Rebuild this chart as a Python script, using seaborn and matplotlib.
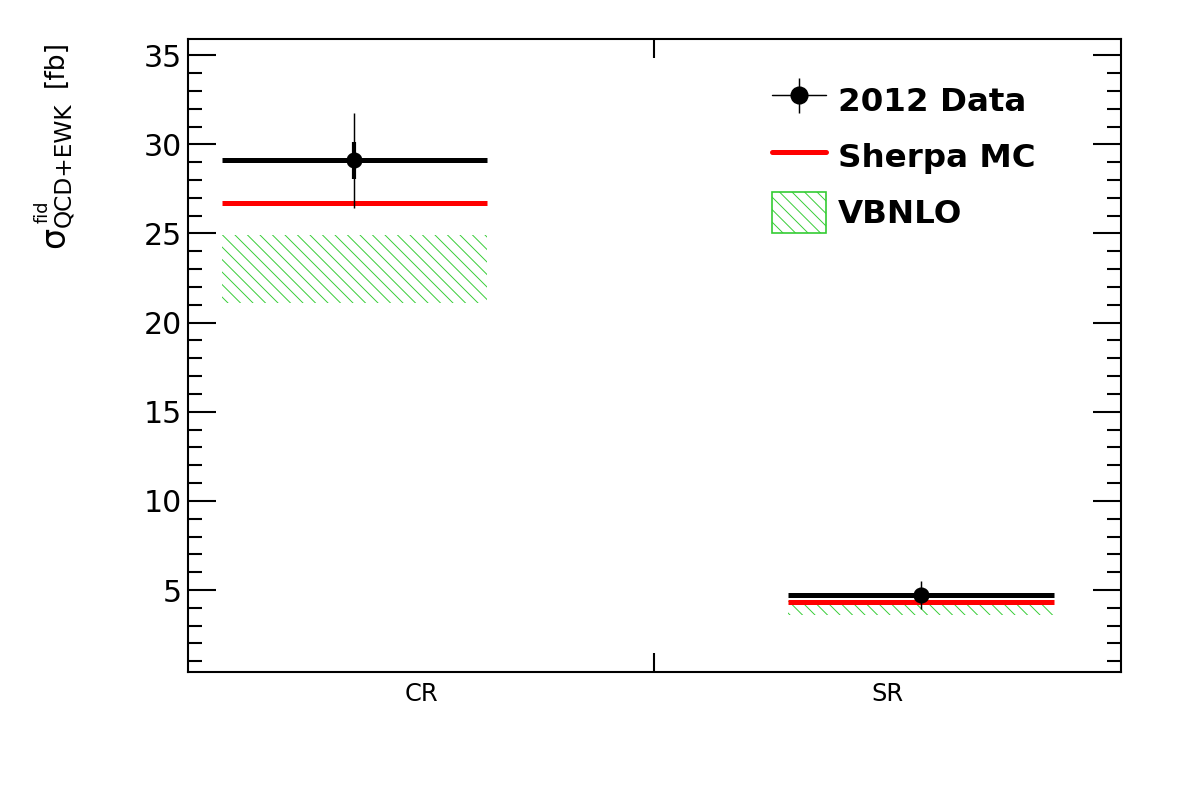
"""
Fiducial cross section in control and signal regions: 2012 data vs Sherpa MC and VBNLO
"""

import matplotlib
matplotlib.use('Agg')
import matplotlib.pyplot as plt
from matplotlib.lines import Line2D
from matplotlib.patches import Patch
from matplotlib.legend_handler import HandlerTuple
import pandas as pd
import seaborn as sns

# Values
regions = ['CR', 'SR']
data_xsec = [29.1, 4.7]
data_stat = [1.05, 0.3]
data_total = [2.65, 0.78]
sherpa_xsec = [26.7, 4.3]
vbnlo_low = [21.1, 3.6]
vbnlo_high = [24.9, 4.4]

sns.set_style('ticks')
plt.rcParams['font.family'] = ['DejaVu Sans']
plt.rcParams['hatch.linewidth'] = 0.45
for key in ['text.color', 'axes.labelcolor', 'xtick.color', 'ytick.color']:
    plt.rcParams[key] = 'black'

df = pd.DataFrame({
    'region': regions,
    'data': data_xsec,
    'stat': data_stat,
    'total': data_total,
    'sherpa': sherpa_xsec,
    'vb_lo': vbnlo_low,
    'vb_hi': vbnlo_high,
})
# where each region's entries sit inside its bin (layout only)
df['xc'] = [0.357, 1.572]
half_w = 0.285

W, H = 1182, 800
fig = plt.figure(figsize=(W / 150, H / 150), dpi=150)
ax = fig.add_axes([0.159, 0.16, 0.7894, 0.791])

green = '#33cc33'
hatch = '\\' * 4
for _, r in df.iterrows():
    ax.fill_between([r.xc - half_w, r.xc + half_w], r.vb_lo, r.vb_hi,
                    facecolor='none', edgecolor=green, hatch=hatch, linewidth=0)
    ax.hlines(r.sherpa, r.xc - half_w, r.xc + half_w, color='#ff0000', lw=2.4, zorder=3)
    ax.hlines(r.data, r.xc - half_w, r.xc + half_w, color='black', lw=2.4, zorder=4)

ax.errorbar(df['xc'], df['data'], yerr=df['total'], fmt='none', ecolor='black',
            elinewidth=0.7, capsize=0, zorder=5)
ax.errorbar(df['xc'], df['data'], yerr=df['stat'], fmt='none', ecolor='black',
            elinewidth=2.0, capsize=0, zorder=5)
sns.scatterplot(data=df, x='xc', y='data', ax=ax, color='black', s=60,
                edgecolor='black', linewidth=0, zorder=6, legend=False)

ax.set_xlim(0, 2)
ax.set_ylim(0.4, 35.9)

# y axis, ROOT style ticks on both sides
ax.set_yticks([5, 10, 15, 20, 25, 30, 35])
ax.set_yticks(range(1, 36), minor=True)
ax.tick_params(axis='y', which='major', direction='in', length=13.4, width=1.0,
               labelsize=14.4, right=True, pad=3)
ax.tick_params(axis='y', which='minor', direction='in', length=6.7, width=1.0, right=True)

# x axis: bin edge tick, labels at bin centres
ax.set_xticks([1])
ax.set_xticklabels([''])
ax.set_xticks([0.5, 1.5], minor=True)
ax.set_xticklabels(regions, minor=True)
ax.tick_params(axis='x', which='major', direction='in', length=9, width=1.0, top=True)
ax.tick_params(axis='x', which='minor', length=0, labelsize=11.6, pad=5)

for s in ax.spines.values():
    s.set_linewidth(1.0)
    s.set_color('black')

ax.set_xlabel('')
ax.set_ylabel('')

# y title built from pieces (ROOT-like sub/superscript sizes), rotated
def ytitle(x_px, y_px, txt, size):
    fig.text(x_px / W, 1 - y_px / H, txt, fontsize=size, rotation=90,
             rotation_mode='anchor', ha='left', va='baseline')

ytitle(64, 248, 'σ', 16)
ytitle(48, 223, 'fid', 8.6)
ytitle(70, 227, 'QCD+EWK', 11.2)
ytitle(63, 87, '[fb]', 12.8)

# legend
data_h = (Line2D([], [], color='black', lw=0.7, marker='o', markersize=7.7),
          Line2D([], [], color='black', lw=0, marker='|', markersize=16.8, markeredgewidth=0.7))
sherpa_h = Line2D([], [], color='#ff0000', lw=2.4)
vbnlo_h = Patch(facecolor='white', edgecolor=green, hatch=hatch, linewidth=0.8)
leg = ax.legend([data_h, sherpa_h, vbnlo_h], ['2012 Data', 'Sherpa MC', 'VBNLO'],
                handler_map={tuple: HandlerTuple(ndivide=1)},
                loc='upper left', bbox_to_anchor=(0.626, 0.936), frameon=False,
                prop={'size': 15.6, 'weight': 'bold'}, handlelength=1.67,
                handleheight=1.55, handletextpad=0.37, labelspacing=0.48,
                borderpad=0, borderaxespad=0)

fig.savefig('out.png', dpi=150)
plt.close(fig)
